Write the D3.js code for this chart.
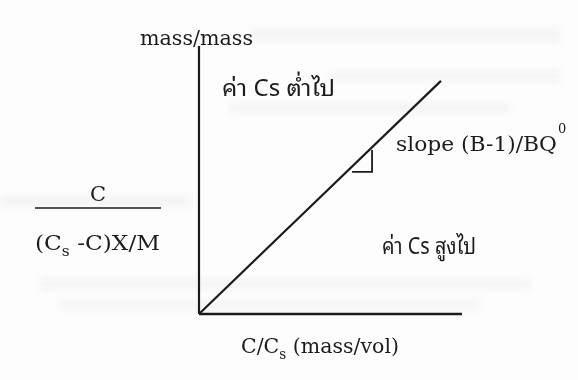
<!DOCTYPE html>
<html>
<head>
<meta charset="utf-8">
<script src="https://cdn.jsdelivr.net/npm/d3@7"></script>
<style>
  html, body { margin: 0; padding: 0; background: #fdfdfd; }
  svg { display: block; }
  text { fill: #1c1c1c; font-family: "DejaVu Serif", "Liberation Serif", serif; }
  .thai { font-family: "Noto Sans Thai Looped", "Noto Serif Thai", "Noto Sans Thai", "Loma", sans-serif; }
</style>
</head>
<body>
<script>
// Linear isotherm: C/((Cs-C)X/M) plotted against C/Cs
const lineX = [0, 0.92];          // C/Cs, relative
const lineY = [0, 0.87];          // C/((Cs-C)X/M), relative
const markerX = [0.582, 0.658];   // right-angle slope marker, relative coords
const markerY = [0.53, 0.612];
const axisLabels = ["mass/mass", "C/C", "s", " (mass/vol)"];
const regionLabels = ["ค่า Cs ต่ำไป", "ค่า Cs สูงไป"];
const slopeLabel = ["slope (B-1)/BQ", "0"];
const fracLabels = ["C", "(C", "s", " -C)X/M"];

const W = 578, H = 380;
const svg = d3.select("body").append("svg").attr("width", W).attr("height", H);

// faint paper show-through streaks
const defs = svg.append("defs");
defs.append("filter").attr("id", "soft").append("feGaussianBlur").attr("stdDeviation", 3);
const streaks = [
  [250, 28, 310, 14], [330, 70, 230, 12], [230, 102, 280, 12],
  [0, 195, 190, 12], [40, 278, 490, 12], [60, 300, 420, 10]
];
svg.append("g").attr("filter", "url(#soft)")
  .selectAll("rect").data(streaks).join("rect")
  .attr("x", d => d[0]).attr("y", d => d[1]).attr("width", d => d[2]).attr("height", d => d[3])
  .attr("fill", "#000").attr("opacity", 0.03);

const x = d3.scaleLinear().domain([0, 1]).range([199, 462]);
const y = d3.scaleLinear().domain([0, 1]).range([314, 46]);

const ink = "#1c1c1c";

// axes drawn as bare lines
svg.append("line")
  .attr("x1", x(0)).attr("y1", y(0)).attr("x2", x(0)).attr("y2", y(1))
  .attr("stroke", ink).attr("stroke-width", 2.2);
svg.append("line")
  .attr("x1", x(0)).attr("y1", y(0)).attr("x2", x(1)).attr("y2", y(0))
  .attr("stroke", ink).attr("stroke-width", 2.6);

// isotherm line
const pts = lineX.map((v, i) => [v, lineY[i]]);
svg.append("path")
  .attr("d", d3.line().x(d => x(d[0])).y(d => y(d[1]))(pts))
  .attr("fill", "none").attr("stroke", ink).attr("stroke-width", 2.2);

// slope marker (right angle under the line)
svg.append("path")
  .attr("d", d3.line()([
    [x(markerX[1]), y(markerY[1])],
    [x(markerX[1]), y(markerY[0])],
    [x(markerX[0]), y(markerY[0])]
  ]))
  .attr("fill", "none").attr("stroke", ink).attr("stroke-width", 1.8);

// y axis title
svg.append("text").attr("x", 140).attr("y", 45)
  .attr("font-size", 21).attr("textLength", 113).attr("lengthAdjust", "spacingAndGlyphs")
  .text(axisLabels[0]);

// x axis title with subscript
const xt = svg.append("text").attr("x", 241).attr("y", 353).attr("font-size", 21)
  .attr("textLength", 158).attr("lengthAdjust", "spacingAndGlyphs");
xt.append("tspan").text(axisLabels[1]);
xt.append("tspan").attr("font-size", 14).attr("dy", 6).text(axisLabels[2]);
xt.append("tspan").attr("dy", -6).text(axisLabels[3]);

// region labels
svg.append("text").attr("class", "thai").attr("x", 222).attr("y", 96)
  .attr("font-size", 23).attr("textLength", 113).attr("lengthAdjust", "spacingAndGlyphs")
  .text(regionLabels[0]);
svg.append("text").attr("class", "thai").attr("x", 382).attr("y", 254)
  .attr("font-size", 23).attr("textLength", 94).attr("lengthAdjust", "spacingAndGlyphs")
  .text(regionLabels[1]);

// slope annotation
svg.append("text").attr("x", 396).attr("y", 151).attr("font-size", 20)
  .attr("textLength", 161).attr("lengthAdjust", "spacingAndGlyphs")
  .text(slopeLabel[0]);
svg.append("text").attr("x", 558).attr("y", 133).attr("font-size", 13)
  .text(slopeLabel[1]);

// left-hand fraction naming the y quantity
svg.append("text").attr("x", 98).attr("y", 201).attr("text-anchor", "middle")
  .attr("font-size", 21).text(fracLabels[0]);
svg.append("line").attr("x1", 35).attr("x2", 161).attr("y1", 208).attr("y2", 208)
  .attr("stroke", ink).attr("stroke-width", 1.6);
const den = svg.append("text").attr("x", 35).attr("y", 250).attr("font-size", 21)
  .attr("textLength", 125).attr("lengthAdjust", "spacingAndGlyphs");
den.append("tspan").text(fracLabels[1]);
den.append("tspan").attr("font-size", 14).attr("dy", 6).text(fracLabels[2]);
den.append("tspan").attr("dy", -6).text(fracLabels[3]);
</script>
</body>
</html>
